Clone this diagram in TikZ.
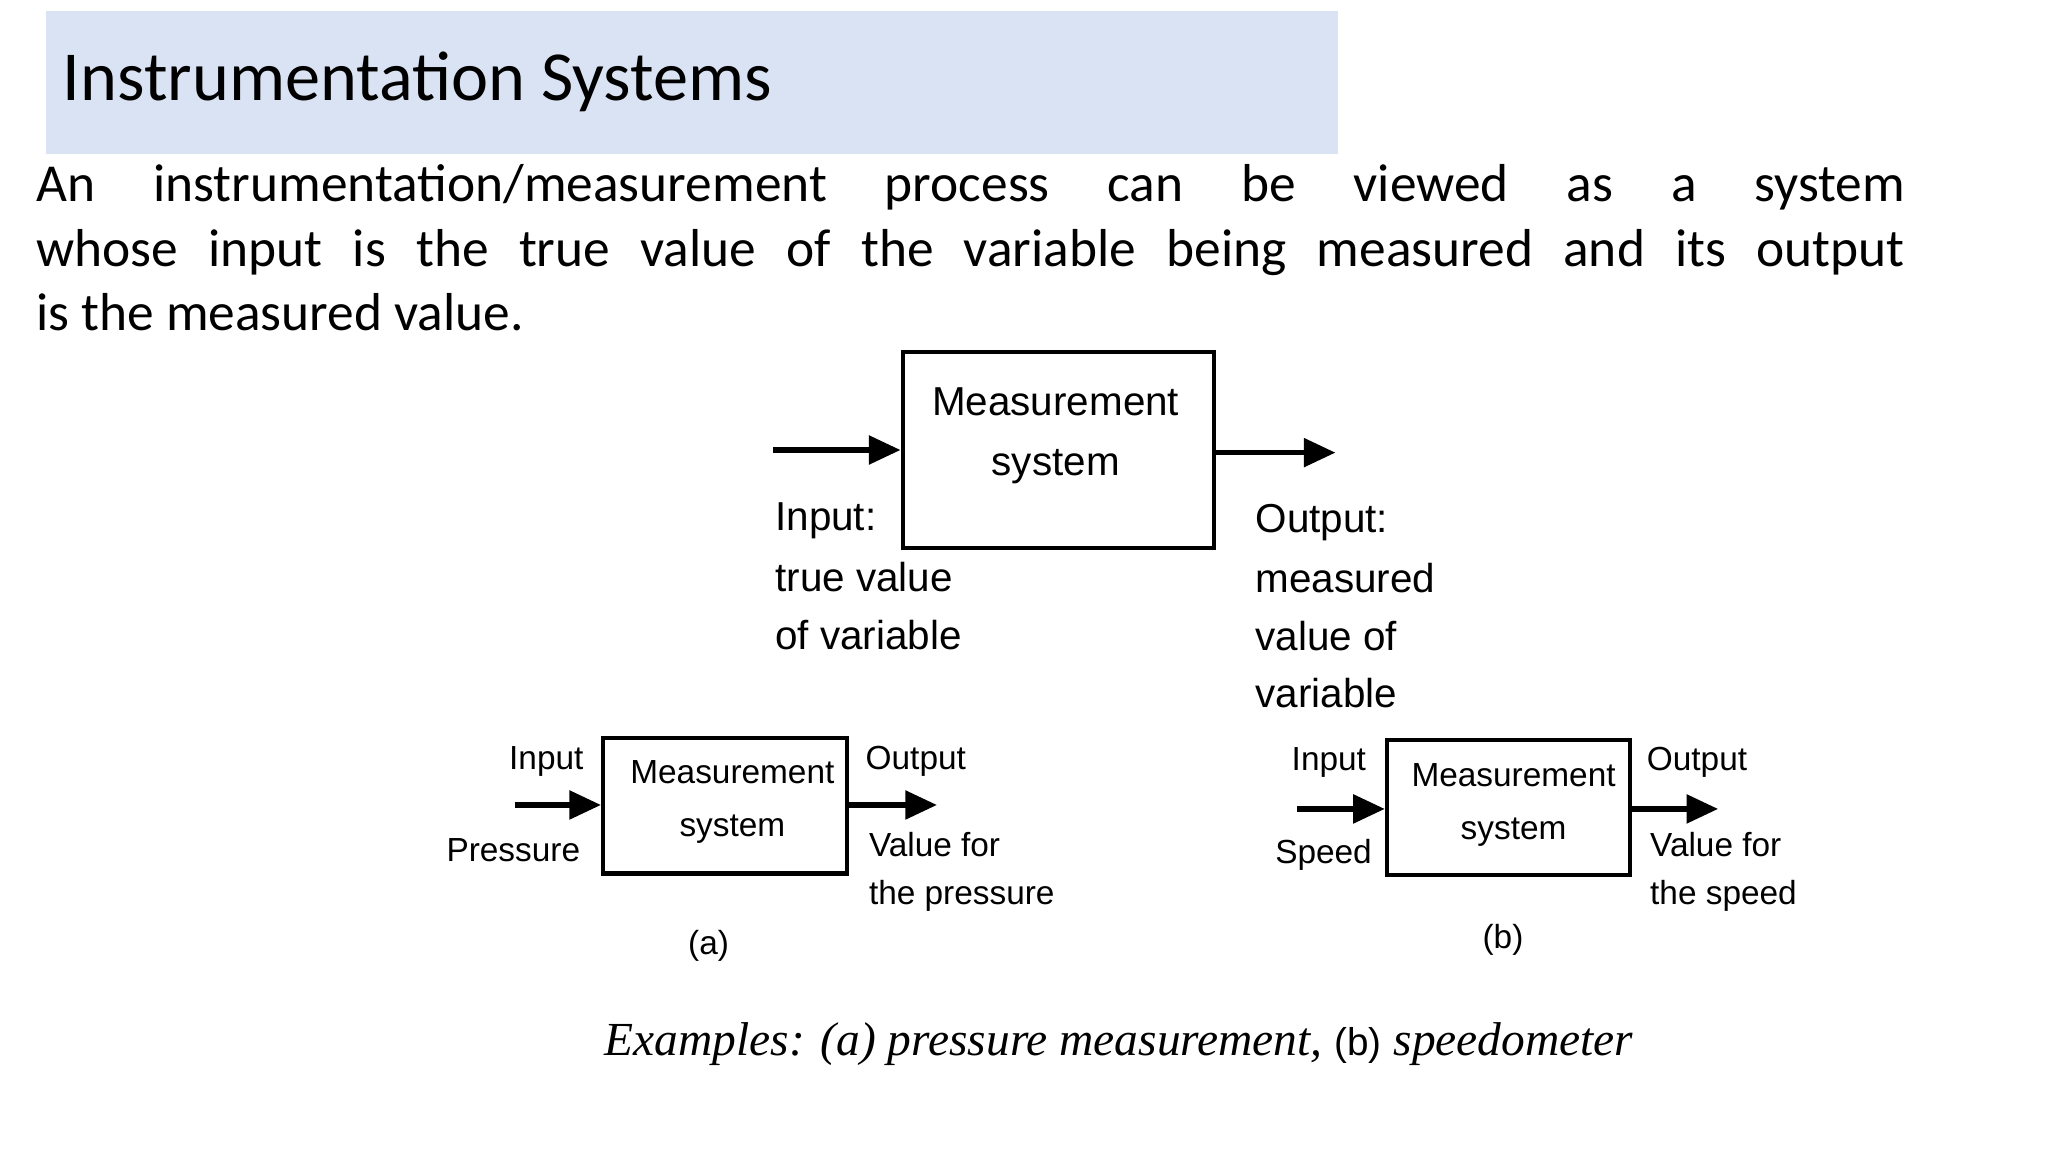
\documentclass[tikz,border=0pt]{standalone}
\usepackage{fontspec}
\setmainfont{Carlito}
\newfontfamily\diag{Liberation Sans}
\newfontfamily\capf{Liberation Serif}
\usetikzlibrary{arrows.meta}
\definecolor{titlebg}{RGB}{218,227,243}
\begin{document}
\begin{tikzpicture}[x=0.0132cm,y=-0.0132cm,
  mbox/.style={draw,line width=1.2pt,inner sep=0pt},
  arr/.style={line width=1.5pt,-{Triangle[length=9pt,width=8pt]}},
  dl/.style={font=\diag\fontsize{11.5}{13}\selectfont,inner sep=0pt},
  sl/.style={font=\diag\fontsize{9.5}{11}\selectfont,inner sep=0pt}]
\useasboundingbox (0,0) rectangle (1552,873);
\fill[titlebg] (35,8) rectangle (1014,117);
\node[anchor=west,inner sep=0pt,font=\fontsize{20}{24}\selectfont] (title) at (47,62) {Instrumentation Systems};
\node[anchor=north west,inner sep=0pt,text width=18.69cm,align=justify,font=\fontsize{15.2}{18.4}\selectfont] (body) at (27,124)
{An instrumentation/measurement process can be viewed as a system\linebreak whose input is the true value of the variable being measured and its output\linebreak is the measured value.};
% main
\node[mbox,minimum width=236*0.0132cm,minimum height=148*0.0132cm] (M) at (802,341) {};
\node[dl,align=center] (Mt) at (800,330) {Measurement\\[4pt]system};
\coordinate (inL) at (586,341);
\coordinate (outR) at (1012,343);
\draw[arr] (inL) -- (M.west);
\draw[arr] (M.east |- outR) -- (outR);
\node[dl,anchor=west] (i1) at (587,395) {Input:};
\node[dl,anchor=west] (i2) at (587,437) {true value};
\node[dl,anchor=west] (i3) at (587,481) {of variable};
\node[dl,anchor=west] (o1) at (951,396) {Output:};
\node[dl,anchor=west] (o2) at (951,438) {measured};
\node[dl,anchor=west] (o3) at (951,482) {value of};
\node[dl,anchor=west] (o4) at (951,525) {variable};
% (a)
\node[mbox,minimum width=185*0.0132cm,minimum height=103*0.0132cm] (A) at (549.5,610.5) {};
\node[sl,align=center] (At) at (555,608) {Measurement\\[4pt]system};
\coordinate (aL) at (390,610); \coordinate (aR) at (710,610);
\draw[arr] (aL) -- (A.west |- aL);
\draw[arr] (A.east |- aR) -- (aR);
\node[sl] (ai) at (414,577) {Input};
\node[sl] (ap) at (389,644) {Pressure};
\node[sl] (ao) at (694,577) {Output};
\node[sl,anchor=west] (av1) at (658,640) {Value for};
\node[sl,anchor=west] (av2) at (658,679) {the pressure};
\node[sl] (al) at (537,717) {(a)};
% (b)
\node[mbox,minimum width=184*0.0132cm,minimum height=102*0.0132cm] (B) at (1143,612) {};
\node[sl,align=center] (Bt) at (1147,610) {Measurement\\[4pt]system};
\coordinate (bL) at (983,613); \coordinate (bR) at (1302,613);
\draw[arr] (bL) -- (B.west |- bL);
\draw[arr] (B.east |- bR) -- (bR);
\node[sl] (bi) at (1007,578) {Input};
\node[sl] (bp) at (1003,648) {Speed};
\node[sl] (bo) at (1286,578) {Output};
\node[sl,anchor=west] (bv1) at (1250,640) {Value for};
\node[sl,anchor=west] (bv2) at (1250,679) {the speed};
\node[sl] (bl) at (1139,712) {(b)};
\node[inner sep=0pt,font=\capf\itshape\fontsize{13.5}{15}\selectfont] (cap) at (848,791) {Examples: (a) pressure measurement, {\upshape\diag\fontsize{11}{13}\selectfont(b)} speedometer};
\end{tikzpicture}
\end{document}
